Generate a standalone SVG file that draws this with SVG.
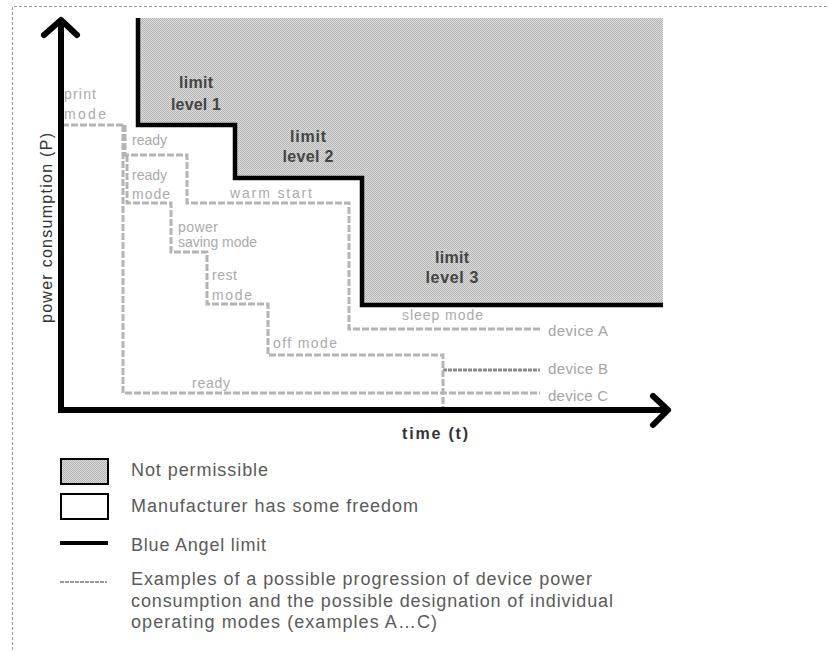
<svg xmlns="http://www.w3.org/2000/svg" width="828" height="652" viewBox="0 0 828 652">
  <style>
    .frame { fill: none; stroke: #9a9a9a; stroke-width: 1; stroke-dasharray: 3 2; }
    .axis { fill: none; stroke: #000; stroke-width: 6; stroke-linecap: butt; }
    .arrow { fill: none; stroke: #000; stroke-width: 6; stroke-linecap: round; stroke-linejoin: round; }
    .limit { fill: none; stroke: #000; stroke-width: 4.5; stroke-linejoin: miter; }
    .dev { fill: none; stroke: #b4b4b4; stroke-width: 3; stroke-dasharray: 7 2; }
    .devdark { fill: none; stroke: #8a8a8a; stroke-width: 3; stroke-dasharray: 4 1; }
    .lim { font-family: "Liberation Sans", Arial, sans-serif; font-size: 16px; font-weight: bold; fill: #444; text-anchor: middle; }
    .mode { font-family: "Liberation Sans", Arial, sans-serif; font-size: 14px; fill: #aaaaaa; }
    .devlbl { font-family: "Liberation Sans", Arial, sans-serif; font-size: 15px; fill: #a4a4a4; }
    .axlbl { font-family: "Liberation Sans", Arial, sans-serif; font-size: 16px; fill: #333; }
    .leg { font-family: "Liberation Sans", Arial, sans-serif; font-size: 18px; fill: #5a5a5a; }
  </style>
  <defs>
    <pattern id="stipple" width="2" height="2" patternUnits="userSpaceOnUse">
      <rect width="2" height="2" fill="#dedede"/>
      <rect width="1" height="1" fill="#b2b2b2"/>
      <rect x="1" y="1" width="1" height="1" fill="#b2b2b2"/>
    </pattern>
  </defs>

  <rect width="828" height="652" fill="#fff"/>

  <g id="frame">
    <path class="frame" d="M12.5,660 V6.5 H840"/>
  </g>

  <g id="not-permissible-region">
    <polygon points="138,18 663,18 663,305 362,305 362,178 235,178 235,125 138,125" fill="url(#stipple)"/>
    <polyline class="limit" points="138,18 138,125 235,125 235,178 362,178 362,305 663,305"/>
  </g>

  <g id="limit-labels">
    <g id="limit-level-1">
      <text class="lim" x="196" y="88" textLength="34">limit</text>
      <text class="lim" x="196" y="110" textLength="50">level 1</text>
    </g>
    <g id="limit-level-2">
      <text class="lim" x="308" y="142" textLength="36">limit</text>
      <text class="lim" x="308" y="162" textLength="51">level 2</text>
    </g>
    <g id="limit-level-3">
      <text class="lim" x="452" y="263" textLength="34">limit</text>
      <text class="lim" x="452" y="283" textLength="53">level 3</text>
    </g>
  </g>

  <g id="connectors">
    <path id="device-A-path" class="dev" d="M62,125 H125 V155 H187 V203 H349 V329 H540"/>
    <path id="device-B-path" class="dev" d="M127,155 V203 H171 V252 H207 V304 H268 V355 H443 V370"/>
    <path id="device-B-end" class="devdark" d="M443,370 H540"/>
    <path id="device-C-path" class="dev" d="M123,125 V393 H540"/>
    <path id="device-B-drop" class="dev" d="M443,370 V408"/>
  </g>

  <g id="mode-labels">
    <g id="print-mode"><text class="mode" x="64" y="99" textLength="32">print</text><text class="mode" x="64" y="119" textLength="42">mode</text></g>
    <g id="ready-1"><text class="mode" x="132" y="145" textLength="35">ready</text></g>
    <g id="ready-mode"><text class="mode" x="132" y="180" textLength="35">ready</text><text class="mode" x="132" y="199" textLength="38">mode</text></g>
    <g id="warm-start"><text class="mode" x="230" y="198" textLength="82">warm start</text></g>
    <g id="power-saving-mode"><text class="mode" x="178" y="232" textLength="40">power</text><text class="mode" x="178" y="247" textLength="79">saving mode</text></g>
    <g id="rest-mode"><text class="mode" x="212" y="280" textLength="25">rest</text><text class="mode" x="212" y="300" textLength="40">mode</text></g>
    <g id="off-mode"><text class="mode" x="273" y="348" textLength="64">off mode</text></g>
    <g id="ready-2"><text class="mode" x="192" y="388" textLength="38">ready</text></g>
    <g id="sleep-mode"><text class="mode" x="402" y="320" textLength="81">sleep mode</text></g>
    <g id="device-A"><text class="devlbl" x="548" y="336" textLength="60">device A</text></g>
    <g id="device-B"><text class="devlbl" x="548" y="374" textLength="60">device B</text></g>
    <g id="device-C"><text class="devlbl" x="548" y="401" textLength="60">device C</text></g>
  </g>

  <g id="axes">
    <line class="axis" x1="61" y1="22" x2="61" y2="412"/>
    <polyline class="arrow" points="44,35 61,20 77,35"/>
    <line class="axis" x1="58" y1="410" x2="666" y2="410"/>
    <polyline class="arrow" points="653,396 668,410 653,425"/>
    <text id="y-axis-label" class="axlbl" transform="translate(52,228) rotate(-90)" text-anchor="middle" textLength="190">power consumption (P)</text>
    <text id="x-axis-label" class="axlbl" x="402" y="439" font-weight="bold" textLength="66">time (t)</text>
  </g>

  <g id="legend">
    <g id="legend-not-permissible">
      <rect x="61" y="459" width="47" height="25" fill="url(#stipple)" stroke="#000" stroke-width="2"/>
      <text class="leg" x="131" y="476" textLength="137">Not permissible</text>
    </g>
    <g id="legend-freedom">
      <rect x="61" y="494" width="47" height="25" fill="#fff" stroke="#000" stroke-width="2"/>
      <text class="leg" x="131" y="512" textLength="287">Manufacturer has some freedom</text>
    </g>
    <g id="legend-limit">
      <line x1="60" y1="543" x2="108" y2="543" stroke="#000" stroke-width="4"/>
      <text class="leg" x="131" y="551" textLength="135">Blue Angel limit</text>
    </g>
    <g id="legend-examples">
      <line x1="60" y1="582" x2="107" y2="582" stroke="#999" stroke-width="2" stroke-dasharray="4 1"/>
      <text class="leg" x="131" y="585" textLength="461">Examples of a possible progression of device power</text>
      <text class="leg" x="131" y="607" textLength="482">consumption and the possible designation of individual</text>
      <text class="leg" x="131" y="628" textLength="306">operating modes (examples A…C)</text>
    </g>
  </g>
</svg>
